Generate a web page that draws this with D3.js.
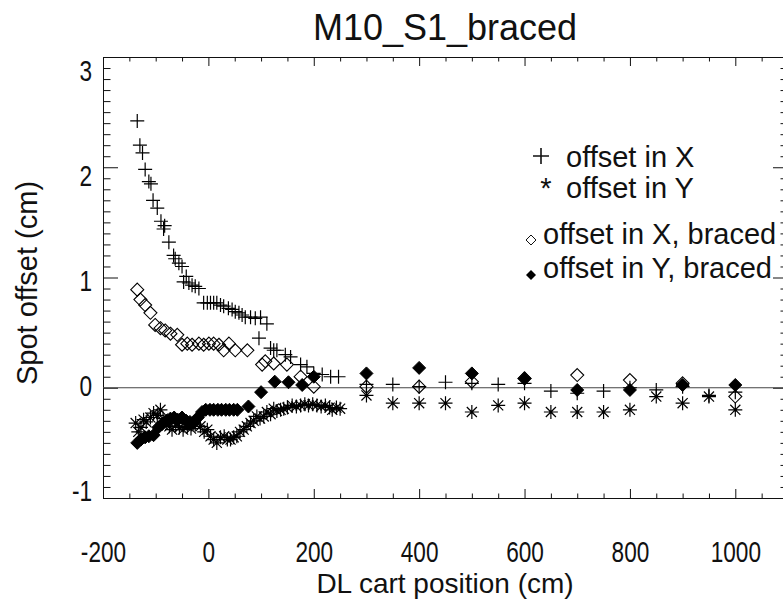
<!DOCTYPE html>
<html>
<head>
<meta charset="utf-8">
<script src="https://cdn.jsdelivr.net/npm/d3@7"></script>
<style>
  body { margin: 0; background: #fff; }
  svg { display: block; }
  text { font-family: "Liberation Sans", Arial, Helvetica, sans-serif; fill: #111; }
</style>
</head>
<body>
<div id="chart"></div>
<script>
// offset in X (plus), [cart position, offset]
const offsetX = [
  [-135, 2.42], [-130, 2.20], [-125, 2.13], [-120, 1.98], [-113, 1.87], [-109, 1.85],
  [-105, 1.70], [-97, 1.63], [-90, 1.51], [-85, 1.44], [-83, 1.47], [-75, 1.32],
  [-66, 1.20], [-63, 1.17], [-56, 1.13], [-50, 1.10], [-47, 0.96], [-42, 1.01],
  [-37, 0.95], [-31, 0.93], [-25, 0.92], [-18, 0.90], [-9, 0.77], [-2, 0.77],
  [4, 0.77], [10, 0.77], [16, 0.77], [23, 0.75], [29, 0.74], [38, 0.72],
  [45, 0.71], [51, 0.69], [58, 0.68], [64, 0.66], [70, 0.64], [80, 0.64],
  [89, 0.63], [99, 0.64], [111, 0.58], [96, 0.45], [118, 0.36], [124, 0.34],
  [130, 0.34], [146, 0.30], [156, 0.28], [175, 0.21], [187, 0.19], [200, 0.13],
  [216, 0.12], [232, 0.10], [247, 0.10],
  [300, 0.03], [350, 0.03], [400, 0.01], [450, 0.05], [500, 0.04], [550, 0.03],
  [600, 0.04], [650, -0.03], [700, -0.05], [750, -0.03], [800, 0.00], [850, -0.02],
  [900, 0.01], [950, -0.07], [1000, -0.04]
]

// offset in Y (asterisk)
const offsetY = [
  [-138, -0.32], [-133, -0.40], [-128, -0.36], [-123, -0.29], [-118, -0.31], [-110, -0.27],
  [-104, -0.23], [-97, -0.25], [-91, -0.20], [-86, -0.28], [-80, -0.32], [-74, -0.35],
  [-69, -0.38], [-62, -0.34], [-55, -0.36], [-48, -0.38], [-40, -0.35], [-33, -0.37],
  [-25, -0.33], [-15, -0.35], [-8, -0.40], [-2, -0.38], [4, -0.44], [10, -0.47],
  [16, -0.50], [23, -0.45], [30, -0.44], [36, -0.47], [42, -0.47], [48, -0.45],
  [54, -0.44], [60, -0.40], [67, -0.38], [73, -0.35], [80, -0.32], [86, -0.30],
  [92, -0.26], [98, -0.28], [105, -0.26], [111, -0.22], [118, -0.24], [124, -0.19],
  [130, -0.21], [137, -0.20], [143, -0.19], [150, -0.18], [159, -0.16], [167, -0.17],
  [175, -0.16], [183, -0.15], [190, -0.16], [198, -0.15], [206, -0.16], [214, -0.17],
  [222, -0.16], [230, -0.18], [235, -0.20], [243, -0.18], [250, -0.19],
  [300, -0.07], [350, -0.14], [400, -0.14], [450, -0.14], [500, -0.22], [550, -0.16],
  [600, -0.14], [650, -0.22], [700, -0.22], [750, -0.22], [800, -0.20], [850, -0.08],
  [900, -0.14], [950, -0.08], [1000, -0.20]
]

// offset in X, braced (open diamond)
const bracedX = [
  [-135, 0.89], [-129, 0.80], [-120, 0.75], [-110, 0.68], [-101, 0.57], [-91, 0.54],
  [-82, 0.52], [-72, 0.49], [-59, 0.48], [-50, 0.39], [-40, 0.40], [-31, 0.39],
  [-18, 0.40], [-9, 0.39], [1, 0.40], [10, 0.40], [20, 0.39], [29, 0.34],
  [39, 0.40], [51, 0.34], [74, 0.34], [102, 0.21], [108, 0.24], [124, 0.22],
  [149, 0.21], [175, 0.10], [200, 0.01],
  [300, 0.01], [400, 0.01], [500, 0.055], [600, 0.085], [700, 0.115], [800, 0.07],
  [900, 0.04], [1000, -0.08]
]

// offset in Y, braced (filled diamond)
const bracedY = [
  [-135, -0.50], [-128, -0.47], [-120, -0.45], [-113, -0.44], [-104, -0.43], [-95, -0.36],
  [-88, -0.33], [-80, -0.30], [-72, -0.28], [-65, -0.27], [-58, -0.29], [-50, -0.27],
  [-42, -0.30], [-35, -0.31], [-28, -0.32], [-20, -0.27], [-12, -0.22], [-5, -0.20],
  [3, -0.20], [10, -0.20], [18, -0.20], [25, -0.20], [33, -0.20], [40, -0.20],
  [48, -0.20], [55, -0.20], [76, -0.17], [100, -0.04], [126, 0.055], [152, 0.05],
  [178, 0.025], [200, 0.10],
  [300, 0.13], [400, 0.18], [500, 0.13], [600, 0.085], [700, -0.02], [800, -0.02],
  [900, 0.025], [1000, 0.025]
]

const xMajor = [-200, 0, 200, 400, 600, 800, 1000]
const yMajor = [-1, 0, 1, 2, 3]
const legendLabels = ['offset in X', 'offset in Y', 'offset in X, braced', 'offset in Y, braced']

const width = 783
const height = 604

const svg = d3.select('#chart').append('svg')
  .attr('width', width)
  .attr('height', height)

const x = d3.scaleLinear().domain([-200, 1100]).range([103, 788])
const y = d3.scaleLinear().domain([-1, 3]).range([498, 57])
// the y labels of the original sit a little inside the end ticks
const yLabel = d3.scaleLinear().domain([-1, 3]).range([491, 71])

const xMinor = d3.range(-200, 1101, 50).filter(v => !xMajor.includes(v))
const yMinor = d3.range(-10, 31).map(v => v / 10).filter(v => !yMajor.includes(v))

const plain = d => String(d)

const axisStyle = g => {
  g.selectAll('path.domain').attr('stroke', '#111')
  g.selectAll('line').attr('stroke', '#111')
}

// tick labels are narrow in the original
const tickText = g => g.selectAll('text')
  .style('font-size', '29px')
  .attr('fill', '#111')
  .attr('transform', 'scale(0.78,1)')

// bottom
svg.append('g').attr('transform', 'translate(0,498)')
  .call(d3.axisBottom(x).tickValues(xMinor).tickSize(-4.5).tickSizeOuter(0).tickFormat(''))
  .call(axisStyle)
svg.append('g').attr('transform', 'translate(0,498)')
  .call(d3.axisBottom(x).tickValues(xMajor).tickSize(-9).tickSizeOuter(0).tickPadding(43).tickFormat(plain))
  .call(axisStyle)
  .call(tickText)

// top
svg.append('g').attr('transform', 'translate(0,57)')
  .call(d3.axisTop(x).tickValues(xMinor).tickSize(-4.5).tickSizeOuter(0).tickFormat(''))
  .call(axisStyle)
svg.append('g').attr('transform', 'translate(0,57)')
  .call(d3.axisTop(x).tickValues(xMajor).tickSize(-9).tickSizeOuter(0).tickFormat(''))
  .call(axisStyle)

// left
svg.append('g').attr('transform', 'translate(103,0)')
  .call(d3.axisLeft(y).tickValues(yMinor).tickSize(-7.5).tickSizeOuter(0).tickFormat(''))
  .call(axisStyle)
svg.append('g').attr('transform', 'translate(103,0)')
  .call(d3.axisLeft(y).tickValues(yMajor).tickSize(-15).tickSizeOuter(0).tickFormat(''))
  .call(axisStyle)
svg.append('g').selectAll('text').data(yMajor).join('text')
  .attr('transform', d => `translate(92,${yLabel(d)}) scale(0.78,1)`)
  .attr('dy', '0.36em')
  .attr('text-anchor', 'end')
  .style('font-size', '29px')
  .text(plain)

// right
svg.append('g').attr('transform', 'translate(788,0)')
  .call(d3.axisRight(y).tickValues(yMinor).tickSize(-7.5).tickSizeOuter(0).tickFormat(''))
  .call(axisStyle)
svg.append('g').attr('transform', 'translate(788,0)')
  .call(d3.axisRight(y).tickValues(yMajor).tickSize(-15).tickSizeOuter(0).tickFormat(''))
  .call(axisStyle)

// zero line
svg.append('line')
  .attr('x1', x(-200)).attr('x2', x(1100))
  .attr('y1', y(0)).attr('y2', y(0))
  .attr('stroke', '#444')
  .attr('stroke-width', 1.2)

// symbols
const plusPath = r => `M${-r},0H${r}M0,${-r}V${r}`
const starPath = r => {
  const d = r * 0.72
  return `M${-r},0H${r}M0,${-r}V${r}M${-d},${-d}L${d},${d}M${-d},${d}L${d},${-d}`
}
const diamondPath = r => `M0,${-r}L${r},0L0,${r}L${-r},0Z`

const plot = svg.append('g')

plot.append('g').selectAll('path').data(offsetX).join('path')
  .attr('transform', d => `translate(${x(d[0])},${y(d[1])})`)
  .attr('d', plusPath(7))
  .attr('fill', 'none').attr('stroke', '#000').attr('stroke-width', 1.2)

plot.append('g').selectAll('path').data(offsetY).join('path')
  .attr('transform', d => `translate(${x(d[0])},${y(d[1])})`)
  .attr('d', starPath(7))
  .attr('fill', 'none').attr('stroke', '#000').attr('stroke-width', 1.2)

plot.append('g').selectAll('path').data(bracedX).join('path')
  .attr('transform', d => `translate(${x(d[0])},${y(d[1])})`)
  .attr('d', diamondPath(6.5))
  .attr('fill', 'none').attr('stroke', '#000').attr('stroke-width', 1.1)

plot.append('g').selectAll('path').data(bracedY).join('path')
  .attr('transform', d => `translate(${x(d[0])},${y(d[1])})`)
  .attr('d', diamondPath(6.5))
  .attr('fill', '#000').attr('stroke', '#000').attr('stroke-width', 1)

// titles
svg.append('text')
  .attr('x', 445).attr('y', 40)
  .attr('text-anchor', 'middle')
  .style('font-size', '36px')
  .text('M10_S1_braced')

svg.append('text')
  .attr('x', 445).attr('y', 593)
  .attr('text-anchor', 'middle')
  .style('font-size', '28px')
  .text('DL cart position (cm)')

svg.append('text')
  .attr('transform', 'translate(37,283) rotate(-90)')
  .attr('text-anchor', 'middle')
  .style('font-size', '29px')
  .text('Spot offset (cm)')

// legend
const legend = svg.append('g')
legend.append('path')
  .attr('transform', 'translate(541,156)')
  .attr('d', plusPath(8))
  .attr('stroke', '#111').attr('stroke-width', 1.6).attr('fill', 'none')
legend.append('text')
  .attr('x', 546).attr('y', 198)
  .attr('text-anchor', 'middle')
  .style('font-size', '29px')
  .text('*')
legend.append('path')
  .attr('transform', 'translate(531,240)')
  .attr('d', diamondPath(5))
  .attr('stroke', '#111').attr('stroke-width', 1).attr('fill', 'none')
legend.append('path')
  .attr('transform', 'translate(531,275)')
  .attr('d', diamondPath(5))
  .attr('fill', '#000')

const legendPos = [[566, 167], [566, 198], [543, 244], [543, 278]]
legend.selectAll('text.lab').data(legendLabels).join('text')
  .attr('class', 'lab')
  .attr('x', (d, i) => legendPos[i][0])
  .attr('y', (d, i) => legendPos[i][1])
  .style('font-size', '29px')
  .text(d => d)
</script>
</body>
</html>
